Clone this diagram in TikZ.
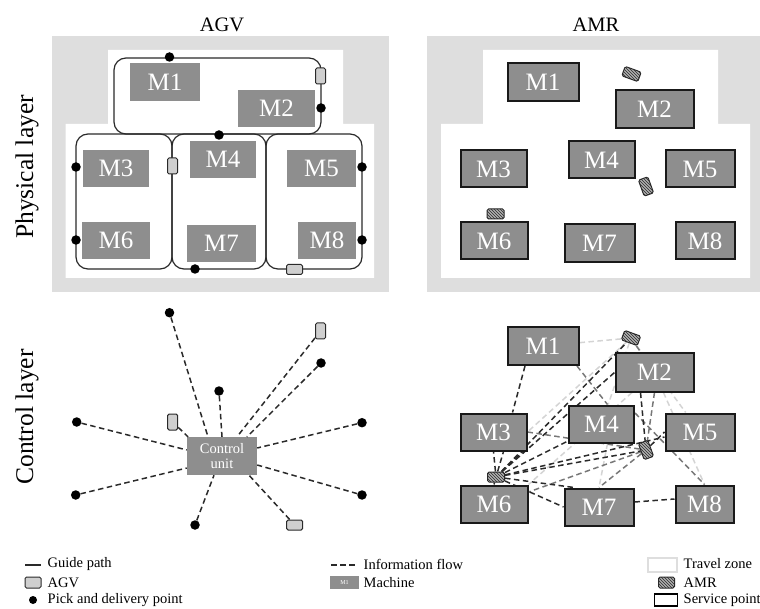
\documentclass[tikz,border=0pt]{standalone}
\usepackage{fontspec}
\setmainfont{Liberation Serif}
\usetikzlibrary{patterns,backgrounds}
\definecolor{zonegray}{HTML}{DEDEDE}
\definecolor{machgray}{HTML}{8E8E8E}
\definecolor{agvgray}{HTML}{CFCFCF}
\definecolor{inkdark}{HTML}{2A2A2A}
\definecolor{flowmid}{HTML}{777777}
\definecolor{flowlight}{HTML}{D4D4D4}
\tikzset{
  machine/.style={fill=machgray,text=white,inner sep=0pt,font=\fontsize{25}{25}\selectfont,anchor=center},
  service/.style={machine,draw=black!90,line width=2pt},
  guide/.style={draw=inkdark,line width=1.2pt,rounded corners=12pt},
  pd/.style={circle,fill=black,inner sep=0pt,minimum size=9.5pt},
  agv/.style={draw=inkdark,fill=agvgray,line width=1pt,rounded corners=1.5pt,inner sep=0pt},
  agvtall/.style={agv,minimum width=10pt,minimum height=16pt},
  agvwide/.style={agv,minimum width=16pt,minimum height=10pt},
  amr/.style={draw=inkdark,line width=1pt,rounded corners=1.5pt,inner sep=0pt,minimum width=17pt,minimum height=10pt,
    preaction={fill=machgray!70},pattern=north west lines,pattern color=inkdark},
  flow/.style={dash pattern=on 5.5pt off 3.5pt,line width=1.5pt,draw=inkdark},
  flowm/.style={flow,draw=flowmid},
  flowl/.style={flow,draw=flowlight},
  title/.style={font=\fontsize{20.5}{20.5}\selectfont},
  layer/.style={font=\fontsize{25.5}{25.5}\selectfont,rotate=90},
  legend/.style={font=\fontsize{14.5}{14.5}\selectfont,anchor=west,inner sep=0pt},
}
\newcommand{\mach}[6]{\node[#1,minimum width=#4pt,minimum height=#5pt] (#2) at (#3) {#6};}
\begin{document}
\begin{tikzpicture}[x=1pt,y=-1pt]
\useasboundingbox (0,0) rectangle (760,609);
% titles
\node[title] (tagv) at (222,25) {AGV};
\node[title] (tamr) at (596,25) {AMR};
\node[layer] (lphys) at (27,167) {Physical layer};
\node[layer] (lctrl) at (27,417) {Control layer};
% physical AGV
\fill[zonegray] (52,36) rectangle (389,292);
\fill[white] (108,50) -- (343,50) -- (343,124) -- (374,124) -- (374,278) -- (65.5,278) -- (65.5,124) -- (108,124) -- cycle;
\draw[guide] (114,134) rectangle (321,58);
\draw[guide] (76,134) rectangle (172,269);
\draw[guide] (172,134) rectangle (266,269);
\draw[guide] (266,134) rectangle (362,269);
\mach{machine}{a1}{165,82}{70}{38}{M1}
\mach{machine}{a2}{276.5,108.5}{77}{37}{M2}
\mach{machine}{a3}{116,168.5}{66}{37}{M3}
\mach{machine}{a4}{223,159.5}{66}{37}{M4}
\mach{machine}{a5}{321.5,168.5}{69}{37}{M5}
\mach{machine}{a6}{116,240.5}{68}{37}{M6}
\mach{machine}{a7}{221.5,243.5}{69}{37}{M7}
\mach{machine}{a8}{327,240.5}{58}{37}{M8}
\node[pd] (p1) at (169.5,57) {};
\node[pd] (p2) at (321,108) {};
\node[pd] (p3) at (219,135) {};
\node[pd] (p4) at (76,167) {};
\node[pd] (p5) at (76,240) {};
\node[pd] (p6) at (362,167) {};
\node[pd] (p7) at (362,240) {};
\node[pd] (p8) at (195,269) {};
\node[agvtall] (g1) at (320.5,76) {};
\node[agvtall] (g2) at (172.5,166) {};
\node[agvwide] (g3) at (294.5,269.5) {};
% physical AMR
\fill[zonegray] (427,36) rectangle (760,292);
\fill[white] (483,50) -- (718,50) -- (718,124) -- (750,124) -- (750,278) -- (441,278) -- (441,124) -- (483,124) -- cycle;
\mach{service}{b1}{543,82.5}{71}{38}{M1}
\mach{service}{b2}{654.5,109}{78}{38}{M2}
\mach{service}{b3}{493.5,169}{66}{37}{M3}
\mach{service}{b4}{601.5,160}{66}{37}{M4}
\mach{service}{b5}{700,169}{69}{37}{M5}
\mach{service}{b6}{494,241}{67}{37}{M6}
\mach{service}{b7}{599.5,243.5}{70}{38}{M7}
\mach{service}{b8}{705,241}{59}{37}{M8}
\node[amr,rotate=-20] (r1) at (631.5,74) {};
\node[amr,rotate=-70] (r2) at (646,186.5) {};
\node[amr] (r3) at (495.5,214) {};
% control AGV
\mach{machine}{cu}{222,456}{70}{38}{}
\node[text=white,font=\fontsize{14.5}{15.5}\selectfont,align=center] (cutext) at (222,456) {Control\\unit};
\node[pd] (q1) at (169.5,312.7) {};
\node[pd] (q2) at (321,363) {};
\node[pd] (q3) at (219,391) {};
\node[pd] (q4) at (76.7,422) {};
\node[pd] (q5) at (362,422.7) {};
\node[pd] (q6) at (75.7,495) {};
\node[pd] (q7) at (362,495) {};
\node[pd] (q8) at (195,525) {};
\node[agvtall] (h1) at (320.5,331) {};
\node[agvtall] (h2) at (172.7,422) {};
\node[agvwide] (h3) at (294.7,525) {};
\draw[flow] (q1) -- ([xshift=-14pt]cu.north);
\draw[flow] (h1) -- ([xshift=15pt]cu.north);
\draw[flow] (q2) -- ([xshift=25pt]cu.north);
\draw[flow] (q3) -- (cu.north);
\draw[flow] (h2) -- ([xshift=-34pt]cu.north);
\draw[flow] (q4) -- ([yshift=6pt]cu.west);
\draw[flow] (q5) -- ([yshift=8pt]cu.east);
\draw[flow] (q6) -- ([yshift=-12pt]cu.west);
\draw[flow] (q7) -- ([yshift=-9pt]cu.east);
\draw[flow] (q8) -- ([xshift=-8pt]cu.south);
\draw[flow] (h3) -- ([xshift=27pt]cu.south);
% control AMR
\mach{service}{m1}{543,346}{71}{38}{M1}
\mach{service}{m2}{654.5,372.5}{78}{38}{M2}
\mach{service}{m3}{493.5,432}{66}{37}{M3}
\mach{service}{m4}{601.5,424}{65}{37}{M4}
\mach{service}{m5}{700,432}{69}{37}{M5}
\mach{service}{m6}{494,504}{67}{37}{M6}
\mach{service}{m7}{599,507}{69}{37}{M7}
\mach{service}{m8}{704.5,504}{58}{37}{M8}
\node[amr,rotate=-20] (ra) at (631,338) {};
\node[amr,rotate=-70] (rb) at (646,450) {};
\node[amr] (rc) at (496,477) {};
\begin{pgfonlayer}{background}
% light
\draw[flowl] (m1) -- (ra);
\draw[flowl] (ra) -- (m5);
\draw[flowl] (ra) -- (m3.east);
\draw[flowl] (m2) -- (m8.north);
\draw[flowl] (ra) -- (m4);
\draw[flowl] ([xshift=6pt]m4.south) -- (m7.north);
\draw[flowl] (m2) -- (m6.north east);
% mid
\draw[flowm] (ra) -- (m2);
\draw[flowm] ([xshift=34pt]m1.south) -- ([xshift=6pt]m4.north);
\draw[flowm] (m3.east) -- (rb);
\draw[flowm] ([yshift=11pt]m4.east) -- (m8.north);
\draw[flowm] (rb) -- ([yshift=12pt]m6.east);
\draw[flowm] (rb) -- (m7.north);
\draw[flowm] (m2.south) -- (rb);
% dark
\draw[flow] ([xshift=-18pt]m1.south) -- ([xshift=19pt]m3.north);
\draw[flow] (rc) -- (ra);
\draw[flow] (rc) -- (m2.west);
\draw[flow] (rc) -- (m3.south);
\draw[flow] (rc) -- ([xshift=10pt]m3.south);
\draw[flow] (rc) -- ([yshift=-15pt]m3.east);
\draw[flow] (rc) -- ([yshift=-17pt]m4.west);
\draw[flow] (rc) -- (rb);
\draw[flow] (rc) -- ([yshift=-5pt]m5.west);
\draw[flow] (rc) -- ([xshift=-25pt]m7.north);
\draw[flow] (rc) -- (m7.west);
\draw[flow] (rc) -- (m6.north);
\draw[flow] ([xshift=-14pt]m2.south) -- (rb);
\draw[flow] (rb) -- (m5.west);
\draw[flow] ([yshift=5pt]m7.east) -- ([yshift=5pt]m8.west);
\end{pgfonlayer}
% legend
\coordinate (l1a) at (25,565);
\coordinate (l1b) at (41,565);
\draw[line width=1.2pt,draw=inkdark] (l1a) -- (l1b);
\node[legend] (t1) at (47.5,564) {Guide path};
\node[agv,minimum width=16pt,minimum height=11pt] (k2) at (33,582.5) {};
\node[legend] (t2) at (47.5,582.5) {AGV};
\node[pd,minimum size=8pt] (k3) at (33,600) {};
\node[legend] (t3) at (47.5,600) {Pick and delivery point};
\coordinate (l4a) at (331,565);
\coordinate (l4b) at (357,565);
\draw[flow] (l4a) -- (l4b);
\node[legend] (t4) at (363.5,564) {Information flow};
\node[fill=machgray,text=white,inner sep=0pt,minimum width=29pt,minimum height=13pt,font=\fontsize{6}{6}\selectfont] (k5) at (344.5,582.5) {M1};
\node[legend] (t5) at (363.5,582.5) {Machine};
\node[draw=zonegray,line width=2.5pt,fill=white,inner sep=0pt,minimum width=29pt,minimum height=14pt] (k6) at (662.5,565) {};
\node[legend] (t6) at (683.5,564) {Travel zone};
\node[amr,minimum width=16pt,minimum height=11pt] (k7) at (666.5,582.5) {};
\node[legend] (t7) at (683.5,582.5) {AMR};
\node[draw=black,line width=1.6pt,inner sep=0pt,minimum width=23pt,minimum height=12pt] (k8) at (666,600) {};
\node[legend] (t8) at (683.5,600) {Service point};
\end{tikzpicture}
\end{document}
